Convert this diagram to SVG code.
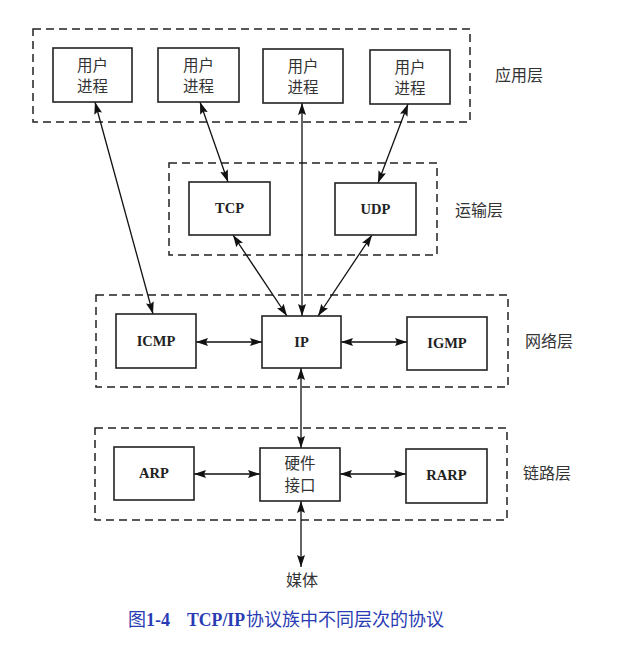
<svg xmlns="http://www.w3.org/2000/svg" width="617" height="650" viewBox="0 0 617 650">
<defs>
<marker id="ah" viewBox="0 0 12 8" refX="12" refY="4" markerWidth="12" markerHeight="8" markerUnits="userSpaceOnUse" orient="auto-start-reverse">
<path d="M0,0 L12,4 L0,8 L2,4 Z" fill="#111"/>
</marker>
</defs>
<style>
.layer{fill:none;stroke:#222;stroke-width:1.5;stroke-dasharray:8 5}
.box{fill:#fff;stroke:#222;stroke-width:1.6}
.cn{font-family:"Noto Sans CJK SC","Noto Sans CJK JP",sans-serif;font-size:15.5px;fill:#333;text-anchor:middle}
.en{font-family:"Liberation Serif",serif;font-weight:bold;font-size:14.5px;fill:#222;text-anchor:middle}
.lbl{font-family:"Noto Sans CJK SC",sans-serif;font-size:16px;fill:#333}
.con{stroke:#111;stroke-width:1.3;fill:none;marker-start:url(#ah);marker-end:url(#ah)}
.cap{font-family:"Liberation Serif","Noto Sans CJK SC",serif;font-size:18px;fill:#2a3cb4}
.capcn{font-family:"Noto Sans CJK SC",sans-serif;font-size:18px;fill:#2a3cb4}
</style>
<rect width="617" height="650" fill="#fff"/>
<g id="layers">
<rect class="layer" x="33" y="29" width="437" height="93"/>
<rect class="layer" x="169" y="163" width="268" height="92"/>
<rect class="layer" x="96" y="295" width="412" height="92"/>
<rect class="layer" x="95" y="428" width="412" height="92"/>
</g>
<g id="layer-labels">
<text class="lbl" x="495" y="81">应用层</text>
<text class="lbl" x="455" y="216">运输层</text>
<text class="lbl" x="525" y="347">网络层</text>
<text class="lbl" x="523" y="479">链路层</text>
</g>
<g id="connectors">
<line class="con" x1="95" y1="102" x2="153" y2="314"/>
<line class="con" x1="200" y1="102" x2="228" y2="182"/>
<line class="con" x1="302" y1="103" x2="302" y2="316"/>
<line class="con" x1="408" y1="104" x2="378" y2="183"/>
<line class="con" x1="233" y1="235" x2="287" y2="316"/>
<line class="con" x1="372" y1="235" x2="318" y2="316"/>
<line class="con" x1="196" y1="342" x2="262" y2="342"/>
<line class="con" x1="341" y1="342" x2="407" y2="342"/>
<line class="con" x1="301" y1="368" x2="301" y2="448"/>
<line class="con" x1="194" y1="474" x2="260" y2="474"/>
<line class="con" x1="340" y1="474" x2="406" y2="474"/>
<line class="con" x1="301" y1="501" x2="301" y2="567"/>
</g>
<g id="user1"><rect class="box" x="53" y="48" width="79" height="54"/><text class="cn" x="92.5" y="71">用户</text><text class="cn" x="92.5" y="92">进程</text></g>
<g id="user2"><rect class="box" x="158" y="48" width="81" height="54"/><text class="cn" x="198.5" y="71">用户</text><text class="cn" x="198.5" y="92">进程</text></g>
<g id="user3"><rect class="box" x="263" y="49" width="80" height="54"/><text class="cn" x="303" y="72">用户</text><text class="cn" x="303" y="93">进程</text></g>
<g id="user4"><rect class="box" x="370" y="50" width="80" height="54"/><text class="cn" x="410" y="73">用户</text><text class="cn" x="410" y="94">进程</text></g>
<g id="tcp"><rect class="box" x="189" y="182" width="81" height="53"/><text class="en" x="229.5" y="213">TCP</text></g>
<g id="udp"><rect class="box" x="335" y="183" width="81" height="52"/><text class="en" x="375.5" y="214">UDP</text></g>
<g id="icmp"><rect class="box" x="116" y="314" width="80" height="54"/><text class="en" x="156" y="346">ICMP</text></g>
<g id="ip"><rect class="box" x="262" y="316" width="79" height="52"/><text class="en" x="301.5" y="347">IP</text></g>
<g id="igmp"><rect class="box" x="407" y="317" width="80" height="53"/><text class="en" x="447" y="348">IGMP</text></g>
<g id="arp"><rect class="box" x="114" y="447" width="80" height="53"/><text class="en" x="154" y="478">ARP</text></g>
<g id="hw"><rect class="box" x="260" y="448" width="80" height="53"/><text class="cn" x="300" y="469">硬件</text><text class="cn" x="300" y="491">接口</text></g>
<g id="rarp"><rect class="box" x="406" y="449" width="81" height="54"/><text class="en" x="446.5" y="480">RARP</text></g>
<g id="media"><text class="cn" x="302" y="586" style="font-size:16px">媒体</text></g>
<g id="caption">
<text class="capcn" x="128" y="626">图</text>
<text class="cap" x="146" y="626" font-weight="bold">1-4</text>
<text class="cap" x="187" y="626" font-weight="bold" textLength="58" lengthAdjust="spacingAndGlyphs">TCP/IP</text>
<text class="capcn" x="246" y="626">协议族中不同层次的协议</text>
</g>
</svg>
